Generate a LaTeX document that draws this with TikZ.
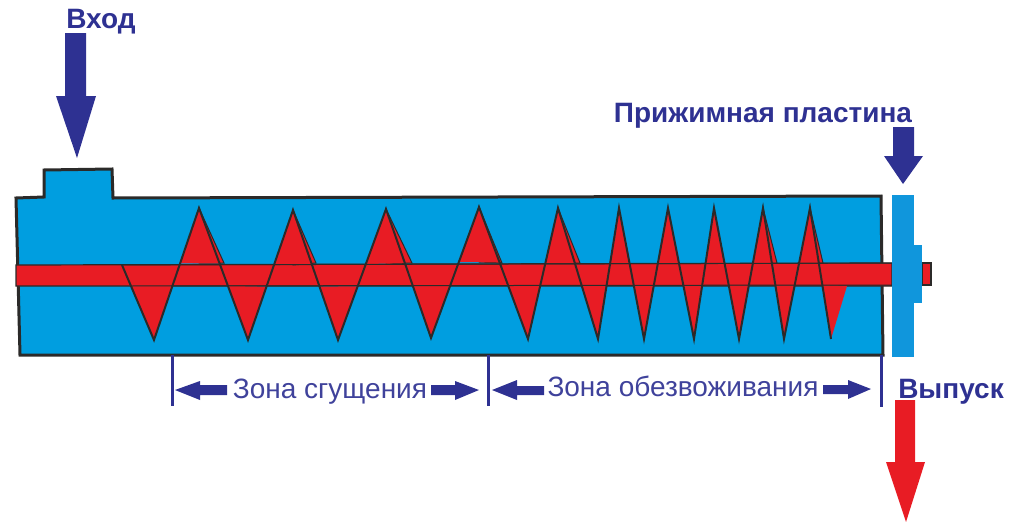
\documentclass[tikz,border=0pt]{standalone}
\usepackage{fontspec}
\setmainfont{Liberation Sans}
\usetikzlibrary{calc}
\definecolor{hblue}{RGB}{0,158,224}
\definecolor{pblue}{RGB}{16,150,220}
\definecolor{sred}{RGB}{232,28,36}
\definecolor{dk}{RGB}{43,42,41}
\definecolor{navy}{RGB}{46,49,146}
\tikzset{
  housing/.style={fill=hblue,draw=dk,line width=3pt,line join=miter},
  shaft/.style={fill=sred,draw=dk,line width=1.2pt},
  plate/.style={fill=pblue,draw=none},
  flight/.style={fill=sred,draw=none},
  wedge/.style={fill=sred,draw=dk,line width=1pt},
  edge/.style={draw=dk,line width=2pt,line join=miter},
  bigarrow/.style={fill=navy,draw=none},
  redarrow/.style={fill=sred,draw=none},
  tick/.style={draw=navy,line width=3pt},
  zonelabel/.style={text=navy!92!white,font=\fontsize{28}{30}\selectfont,inner sep=0pt,anchor=base},
  headlabel/.style={text=navy,font=\fontsize{28}{30}\selectfont\bfseries,inner sep=0pt,anchor=base},
}
\begin{document}
\begin{tikzpicture}[x=1pt,y=-1pt]
\useasboundingbox (0,0) rectangle (1028,522);
% housing
\path[housing] (16,198) -- (44,197) -- (44,170) -- (112,169) -- (113,198) -- (881,196) -- (883,355) -- (20,355) -- cycle;
% flight apexes
\foreach \n/\x/\y in {0/154/340,1/248/340,2/338/340,3/431/338,4/528/339,5/598/339,6/644/339,7/694/339,8/739/339,9/784/339,10/831/339}
  \coordinate (L\n) at (\x,\y);
\foreach \n/\x/\y in {1/199/208,2/293/210,3/386/209,4/479/207,5/558/208,6/619/208,7/668/208,8/714/208,9/763/208,10/810/208}
  \coordinate (U\n) at (\x,\y);
\coordinate (S) at (122,265);
\coordinate (E) at (847,286);
% shaft
\path[shaft] (16,265) -- (892,263) -- (892,286) -- (16,286) -- cycle;
\path[shaft] (922,263) rectangle (931,285);
% red wedges beside the upper apexes
\foreach \n/\x in {1/224,2/316,3/412,4/502,5/580,9/777,10/823}
  \path[wedge] (U\n) -- (\x,263) -- ($(U\n)+(0,55)$) -- cycle;
% upper flights
\foreach \a/\u/\b in {0/1/1,1/2/2,2/3/3,3/4/4,4/5/5,5/6/6,6/7/7,7/8/8,8/9/9,9/10/10}
  \path[flight] ($(L\a)!.58!(U\u)$) -- (U\u) -- ($(L\b)!.58!(U\u)$) -- cycle;
% lower flights
\path[flight] (S) -- (L0) -- ($(L0)!.41!(U1)$) -- cycle;
\foreach \u/\l/\v in {1/1/2,2/2/3,3/3/4,4/4/5,5/5/6,6/6/7,7/7/8,8/8/9,9/9/10}
  \path[flight] ($(L\l)!.41!(U\u)$) -- (L\l) -- ($(L\l)!.41!(U\v)$) -- cycle;
\path[flight] ($(L10)!.41!(U10)$) -- (L10) -- (E) -- cycle;
% shaft edges seen through the flights
\draw[dk,line width=1pt] (122,265) -- (892,263);
\draw[dk,line width=1pt] (130,286) -- (892,285);
% flight edges
\path[edge] (S) -- (L0) -- (U1) -- (L1) -- (U2) -- (L2) -- (U3) -- (L3) -- (U4) -- (L4) -- (U5) -- (L5) -- (U6) -- (L6) -- (U7) -- (L7) -- (U8) -- (L8) -- (U9) -- (L9) -- (U10) -- (L10);
% press plate
\path[plate] (892,195) rectangle (914,357);
\path[plate] (914,245) rectangle (922,303);
% zone ticks
\coordinate (T1a) at (172,355); \coordinate (T1b) at (172,406);
\coordinate (T2a) at (488,355); \coordinate (T2b) at (488,406);
\coordinate (T3a) at (881,355); \coordinate (T3b) at (881,407);
\draw[tick] (T1a) -- (T1b);
\draw[tick] (T2a) -- (T2b);
\draw[tick] (T3a) -- (T3b);
% zone arrows
\path[bigarrow] (175,390) -- (200,381) -- (200,385) -- (227,385) -- (227,395) -- (200,395) -- (200,400) -- cycle;
\path[bigarrow] (479,390) -- (455,381) -- (455,385) -- (431,385) -- (431,395) -- (455,395) -- (455,400) -- cycle;
\path[bigarrow] (492,390) -- (517,380) -- (517,386) -- (544,386) -- (544,395) -- (517,395) -- (517,400) -- cycle;
\path[bigarrow] (871,389) -- (848,380) -- (848,385) -- (823,385) -- (823,394) -- (848,394) -- (848,399) -- cycle;
% big arrows
\path[bigarrow] (65,33) -- (86,33) -- (86,96) -- (96,96) -- (77,158) -- (56,96) -- (65,96) -- cycle;
\path[bigarrow] (893,127) -- (914,127) -- (914,156) -- (923,156) -- (903,184) -- (884,156) -- (893,156) -- cycle;
\path[redarrow] (895,400) -- (915,400) -- (915,462) -- (925,462) -- (906,522) -- (886,462) -- (895,462) -- cycle;
% labels
\node[headlabel] (vhod) at (101,28) {Вход};
\node[headlabel] (plast) at (763,122) {Прижимная пластина};
\node[headlabel] (vyp) at (951,398) {Выпуск};
\node[zonelabel] (z1) at (330,398) {Зона сгущения};
\node[zonelabel] (z2) at (683,396) {Зона обезвоживания};
\end{tikzpicture}
\end{document}
